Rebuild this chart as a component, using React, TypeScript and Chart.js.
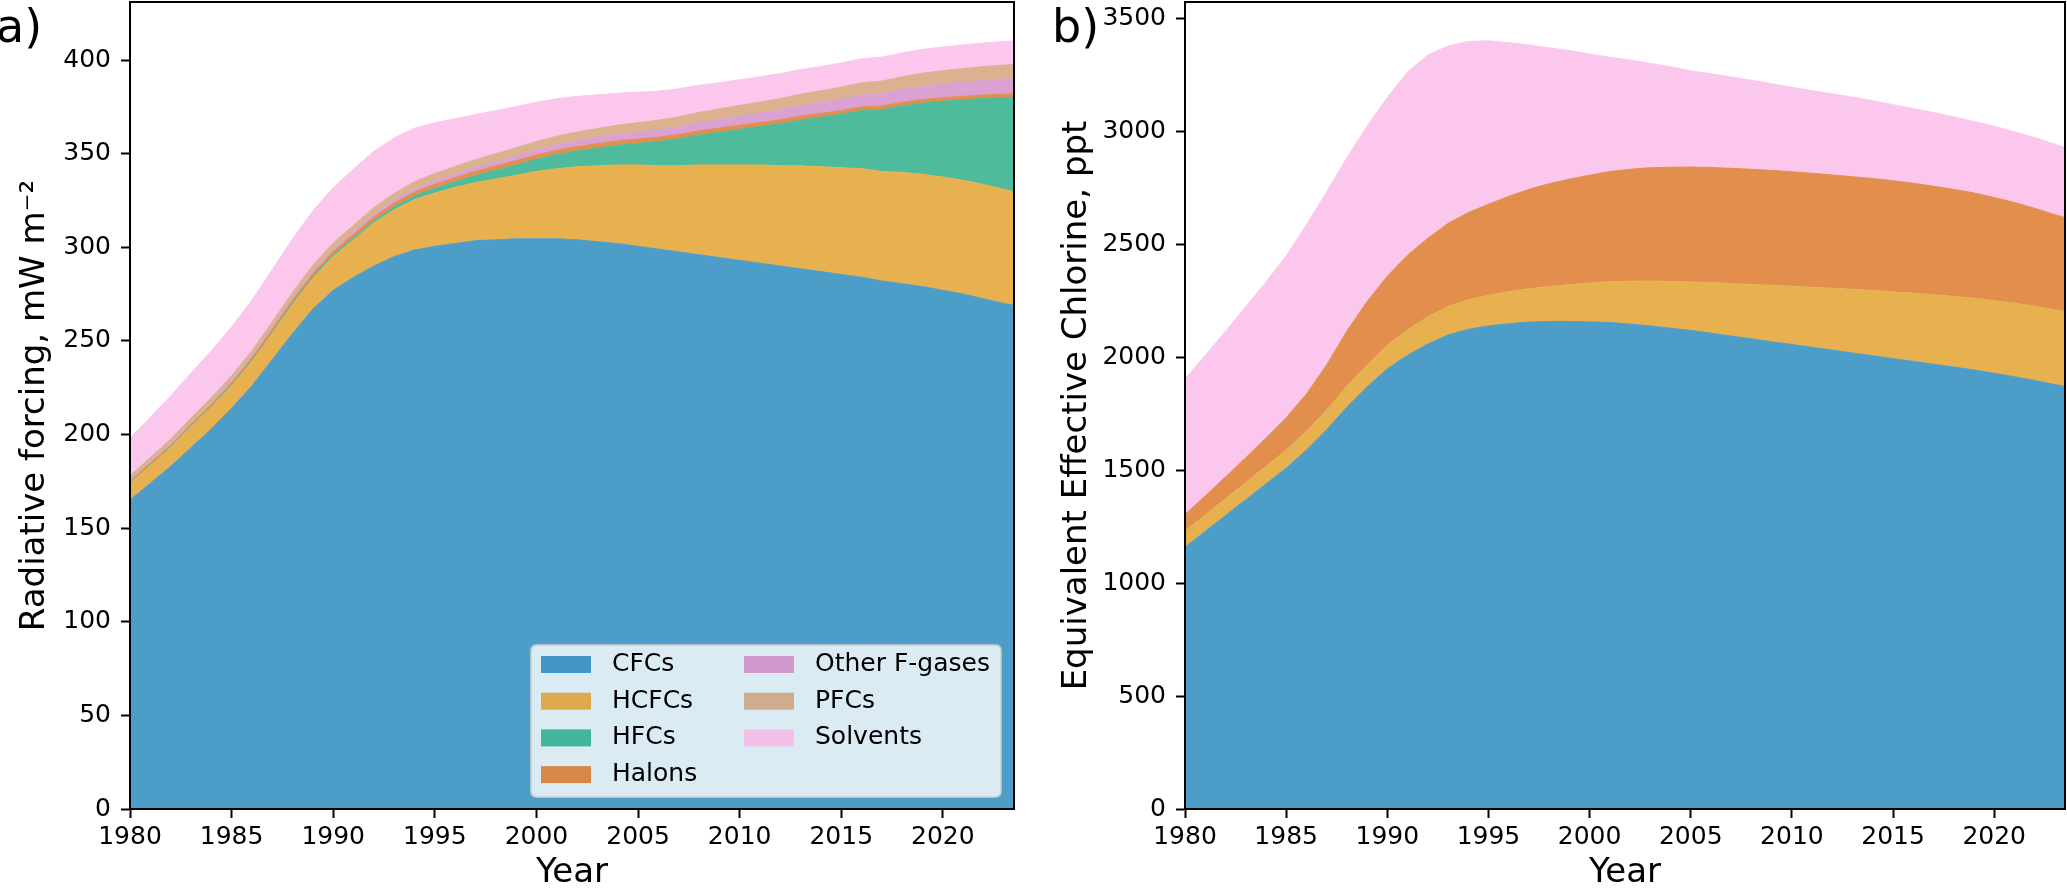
import React, { useEffect, useRef } from "react";
import { Chart, registerables } from "chart.js";

Chart.register(...registerables);

const FONT = "'DejaVu Sans', 'Noto Sans', sans-serif";

// ---------- data ----------
const years = [
  1980, 1981, 1982, 1983, 1984, 1985, 1986, 1987, 1988, 1989,
  1990, 1991, 1992, 1993, 1994, 1995, 1996, 1997, 1998, 1999,
  2000, 2001, 2002, 2003, 2004, 2005, 2006, 2007, 2008, 2009,
  2010, 2011, 2012, 2013, 2014, 2015, 2016, 2017, 2018, 2019,
  2020, 2021, 2022, 2023, 2023.5,
];

const seriesNames = ["CFCs", "HCFCs", "HFCs", "Halons", "Other F-gases", "PFCs", "Solvents"];
const seriesColors = ["#0173B2", "#DE8F05", "#029E73", "#D55E00", "#CC78BC", "#CA9161", "#FBAFE4"];

// Panel a: radiative forcing, mW m-2
const cfcA = [165, 174, 183, 193, 203, 214, 226, 240, 254, 267,
  277, 284, 290, 295, 298.5, 300.5, 302, 303.5, 304, 304.5,
  304.5, 304.5, 304, 303, 302, 300.5, 299, 297.5, 296, 294.5,
  293, 291.5, 290, 288.5, 287, 285.5, 284, 282, 280.5, 279,
  277, 275, 272.5, 270, 269];
const hcfcA = [9, 9.5, 10, 11, 11.5, 12, 13, 14, 15.5, 16.5,
  18, 20, 23, 25, 27, 28.5, 30, 31, 32.5, 34,
  36, 37.5, 39, 40.5, 42, 43.5, 44.5, 46, 48, 49.5,
  51, 52.5, 53.5, 55, 56, 57, 58, 58.5, 59.5, 60,
  60.5, 60.8, 61, 61, 60.6];
const hfcA = [0.2, 0.2, 0.3, 0.3, 0.4, 0.4, 0.5, 0.6, 0.7, 0.8,
  0.9, 1.0, 1.2, 1.5, 2, 2.5, 3, 3.8, 4.6, 5.5,
  6.5, 7.5, 8.5, 9.5, 10.5, 11.5, 13, 14.5, 16, 17.5,
  19, 20.5, 22.5, 24.5, 26.5, 28.5, 31, 33, 35.5, 38,
  40.5, 43, 46, 49, 50.5];
const halonA = [0.8, 0.9, 1.0, 1.1, 1.2, 1.3, 1.4, 1.5, 1.6, 1.7,
  1.8, 1.9, 2.0, 2.1, 2.1, 2.2, 2.2, 2.3, 2.3, 2.3,
  2.3, 2.3, 2.3, 2.3, 2.3, 2.3, 2.3, 2.2, 2.2, 2.2,
  2.2, 2.1, 2.1, 2.1, 2.0, 2.0, 2.0, 2.0, 1.9, 1.9,
  1.9, 1.8, 1.8, 1.8, 1.8];
const otherA = [0.5, 0.55, 0.6, 0.65, 0.7, 0.8, 0.85, 0.9, 1.0, 1.1,
  1.2, 1.3, 1.4, 1.5, 1.65, 1.8, 1.95, 2.1, 2.3, 2.5,
  2.7, 2.9, 3.1, 3.3, 3.5, 3.7, 3.9, 4.15, 4.4, 4.65,
  4.9, 5.1, 5.35, 5.6, 5.85, 6.1, 6.35, 6.6, 6.85, 7.1,
  7.35, 7.6, 7.8, 8.0, 8.1];
const pfcA = [2.5, 2.6, 2.7, 2.75, 2.85, 2.95, 3.05, 3.15, 3.25, 3.35,
  3.45, 3.55, 3.65, 3.75, 3.85, 3.95, 4.05, 4.15, 4.25, 4.4,
  4.5, 4.6, 4.7, 4.8, 4.95, 5.05, 5.2, 5.3, 5.45, 5.55,
  5.7, 5.85, 6.0, 6.1, 6.25, 6.4, 6.55, 6.7, 6.85, 7.0,
  7.1, 7.25, 7.4, 7.5, 7.55];
const solvA = [20, 21.5, 23, 24, 25, 26, 27, 28, 28.5, 29,
  29.5, 30, 30, 29.5, 28.5, 27, 25.5, 24, 23, 22,
  21, 20, 19, 18, 17, 16.3, 15.5, 15, 14.5, 14,
  13.7, 13.5, 13.3, 13.1, 13, 12.9, 12.8, 12.8, 12.7, 12.7,
  12.6, 12.6, 12.6, 12.6, 12.6];

// Panel b: equivalent effective chlorine, ppt
const cfcB = [1160, 1230, 1300, 1370, 1440, 1510, 1590, 1680, 1780, 1870,
  1950, 2010, 2060, 2100, 2125, 2140, 2150, 2157, 2160, 2160,
  2158, 2155, 2148, 2140, 2130, 2120, 2108, 2095, 2083, 2070,
  2058, 2045, 2033, 2020, 2008, 1995, 1983, 1970, 1958, 1945,
  1930, 1915, 1898, 1880, 1872];
const hcfcB = [70, 72, 74, 76, 78, 80, 83, 87, 92, 98,
  105, 113, 120, 126, 131, 136, 142, 148, 155, 163,
  172, 181, 190, 199, 207, 215, 224, 233, 241, 250,
  258, 266, 274, 282, 289, 296, 302, 308, 313, 318,
  322, 326, 329, 331, 332];
const halonB = [75, 85, 97, 110, 125, 143, 165, 200, 245, 280,
  305, 330, 348, 368, 386, 403, 422, 440, 455, 467,
  478, 488, 496, 502, 506, 509, 510, 510, 510, 509,
  507, 505, 502, 499, 496, 492, 487, 481, 474, 466,
  457, 446, 434, 422, 416];
const solvB = [600, 622, 645, 668, 692, 717, 750, 766, 768, 777,
  792, 812, 812, 786, 758, 724, 681, 640, 602, 570,
  537, 506, 484, 462, 445, 426, 415, 405, 394, 384,
  374, 366, 359, 352, 345, 337, 331, 326, 321, 317,
  316, 313, 314, 312, 310];

const xTicks = [1980, 1985, 1990, 1995, 2000, 2005, 2010, 2015, 2020];
const yTicksA = [0, 50, 100, 150, 200, 250, 300, 350, 400];
const yTicksB = [0, 500, 1000, 1500, 2000, 2500, 3000, 3500];

// ---------- helpers ----------
function hexRgb(hex: string): number[] {
  const h = hex.replace("#", "");
  return [parseInt(h.slice(0, 2), 16), parseInt(h.slice(2, 4), 16), parseInt(h.slice(4, 6), 16)];
}
function blend(hex: string, alpha: number, bg: number[] = [255, 255, 255]): string {
  const c = hexRgb(hex);
  const r = c.map((v, i) => Math.round(alpha * v + (1 - alpha) * bg[i]));
  return `rgb(${r[0]},${r[1]},${r[2]})`;
}
function rgba(hex: string, a: number): string {
  const c = hexRgb(hex);
  return `rgba(${c[0]},${c[1]},${c[2]},${a})`;
}

function makeDatasets(list: { idx: number; values: number[] }[]) {
  return list.map((s, k) => {
    const col = blend(seriesColors[s.idx], 0.7);
    return {
      label: seriesNames[s.idx],
      data: s.values.map((v, i) => ({ x: years[i], y: v })),
      fill: k === 0 ? "origin" : "-1",
      backgroundColor: col,
      borderColor: col,
      borderWidth: 1,
      pointRadius: 0,
      pointHoverRadius: 0,
      tension: 0,
    };
  });
}

function roundRectPath(ctx: CanvasRenderingContext2D, x: number, y: number, w: number, h: number, r: number) {
  ctx.beginPath();
  ctx.moveTo(x + r, y);
  ctx.lineTo(x + w - r, y);
  ctx.quadraticCurveTo(x + w, y, x + w, y + r);
  ctx.lineTo(x + w, y + h - r);
  ctx.quadraticCurveTo(x + w, y + h, x + w - r, y + h);
  ctx.lineTo(x + r, y + h);
  ctx.quadraticCurveTo(x, y + h, x, y + h - r);
  ctx.lineTo(x, y + r);
  ctx.quadraticCurveTo(x, y, x + r, y);
  ctx.closePath();
}

const framePlugin = {
  id: "frame",
  afterDraw(chart: any) {
    const { ctx, chartArea: ca } = chart;
    ctx.save();
    ctx.strokeStyle = "#000";
    ctx.lineWidth = 2;
    ctx.strokeRect(ca.left, ca.top, ca.right - ca.left, ca.bottom - ca.top);
    ctx.restore();
  },
};

function panelLabelPlugin(text: string, x: number, y: number) {
  return {
    id: "panelLabel",
    afterDraw(chart: any) {
      const ctx = chart.ctx;
      ctx.save();
      ctx.fillStyle = "#000";
      ctx.font = `46px ${FONT}`;
      ctx.textBaseline = "alphabetic";
      ctx.textAlign = "left";
      ctx.fillText(text, x, y);
      ctx.restore();
    },
  };
}

const legendPlugin = {
  id: "boxLegend",
  afterDraw(chart: any) {
    const { ctx, chartArea: ca } = chart;
    const w = 470;
    const h = 152;
    const x0 = ca.right - 13 - w;
    const y0 = ca.bottom - 12 - h;
    ctx.save();
    roundRectPath(ctx, x0, y0, w, h, 6);
    ctx.fillStyle = "rgba(255,255,255,0.8)";
    ctx.fill();
    ctx.strokeStyle = "rgba(204,204,204,0.8)";
    ctx.lineWidth = 2;
    ctx.stroke();
    ctx.font = `25px ${FONT}`;
    ctx.textBaseline = "middle";
    ctx.textAlign = "left";
    const layout = [
      [0, 0, 0], [1, 0, 1], [2, 0, 2], [3, 0, 3],
      [4, 1, 0], [5, 1, 1], [6, 1, 2],
    ];
    layout.forEach(([idx, col, row]) => {
      const sx = x0 + (col === 0 ? 10 : 213);
      const sy = y0 + 11 + row * 36.7;
      ctx.fillStyle = rgba(seriesColors[idx], 0.7);
      ctx.fillRect(sx, sy, 50, 17);
      ctx.fillStyle = "#000";
      ctx.fillText(seriesNames[idx], x0 + (col === 0 ? 81 : 284), sy + 8.5);
    });
    ctx.restore();
  },
};

function makeConfig(opts: {
  datasets: any[];
  yMax: number;
  yTicks: number[];
  yTitle: string;
  yWidth: number;
  yTitlePad: number;
  padRight: number;
  plugins: any[];
}) {
  const tickFont = { family: FONT, size: 25 };
  const gridOpts = {
    drawOnChartArea: false,
    drawTicks: true,
    tickLength: 9,
    tickWidth: 2,
    color: "#000",
  };
  const borderOpts = { display: true, color: "#000", width: 2 };
  return {
    type: "line",
    data: { datasets: opts.datasets },
    options: {
      animation: false,
      responsive: false,
      maintainAspectRatio: false,
      events: [],
      layout: { padding: { left: 0, right: opts.padRight, top: 2, bottom: 0 } },
      plugins: { legend: { display: false }, tooltip: { enabled: false }, title: { display: false } },
      scales: {
        x: {
          type: "linear",
          min: 1980,
          max: 2023.5,
          afterBuildTicks: (s: any) => {
            s.ticks = xTicks.map((v) => ({ value: v }));
          },
          afterFit: (s: any) => {
            s.height = 79;
            s.paddingLeft = 0;
            s.paddingRight = 0;
            s.paddingTop = 0;
            s.paddingBottom = 0;
          },
          ticks: {
            font: tickFont,
            color: "#000",
            padding: 4.5,
            maxRotation: 0,
            minRotation: 0,
            autoSkip: false,
            callback: (v: any) => String(v),
          },
          grid: gridOpts,
          border: borderOpts,
          title: {
            display: true,
            text: "Year",
            color: "#000",
            font: { family: FONT, size: 34, lineHeight: 0.9 },
            padding: { top: 0, bottom: 0 },
          },
        },
        y: {
          type: "linear",
          stacked: true,
          min: 0,
          max: opts.yMax,
          afterBuildTicks: (s: any) => {
            s.ticks = opts.yTicks.map((v) => ({ value: v }));
          },
          afterFit: (s: any) => {
            s.width = opts.yWidth;
            s.paddingLeft = 0;
            s.paddingRight = 0;
            s.paddingTop = 0;
            s.paddingBottom = 0;
          },
          ticks: {
            font: tickFont,
            color: "#000",
            padding: 10,
            autoSkip: false,
            callback: (v: any) => String(v),
          },
          grid: gridOpts,
          border: borderOpts,
          title: {
            display: true,
            text: opts.yTitle,
            color: "#000",
            font: { family: FONT, size: 34, lineHeight: 1.2 },
            padding: { top: opts.yTitlePad, bottom: 0 },
          },
        },
      },
    },
    plugins: opts.plugins,
  };
}

export default function App() {
  const refA = useRef<HTMLCanvasElement | null>(null);
  const refB = useRef<HTMLCanvasElement | null>(null);

  useEffect(() => {
    Chart.defaults.font.family = FONT;
    const dsA = makeDatasets([
      { idx: 0, values: cfcA },
      { idx: 1, values: hcfcA },
      { idx: 2, values: hfcA },
      { idx: 3, values: halonA },
      { idx: 4, values: otherA },
      { idx: 5, values: pfcA },
      { idx: 6, values: solvA },
    ]);
    const dsB = makeDatasets([
      { idx: 0, values: cfcB },
      { idx: 1, values: hcfcB },
      { idx: 3, values: halonB },
      { idx: 6, values: solvB },
    ]);
    const chartA = new Chart(
      refA.current as HTMLCanvasElement,
      makeConfig({
        datasets: dsA,
        yMax: 431,
        yTicks: yTicksA,
        yTitle: "Radiative forcing, mW m\u207B\u00B2",
        yWidth: 130,
        yTitlePad: 15,
        padRight: 16,
        plugins: [framePlugin, legendPlugin, panelLabelPlugin("a)", -4, 42)],
      }) as any
    );
    const chartB = new Chart(
      refB.current as HTMLCanvasElement,
      makeConfig({
        datasets: dsB,
        yMax: 3575,
        yTicks: yTicksB,
        yTitle: "Equivalent Effective Chlorine, ppt",
        yWidth: 155,
        yTitlePad: 27,
        padRight: 2,
        plugins: [framePlugin, panelLabelPlugin("b)", 22, 42)],
      }) as any
    );
    return () => {
      chartA.destroy();
      chartB.destroy();
    };
  }, []);

  return (
    <div style={{ position: "fixed", left: 0, top: 0, width: 2067, height: 888, background: "#fff", overflow: "hidden" }}>
      <canvas
        ref={refA}
        width={1030}
        height={888}
        style={{ position: "absolute", left: 0, top: 0, width: 1030, height: 888 }}
      />
      <canvas
        ref={refB}
        width={1037}
        height={888}
        style={{ position: "absolute", left: 1030, top: 0, width: 1037, height: 888 }}
      />
    </div>
  );
}
